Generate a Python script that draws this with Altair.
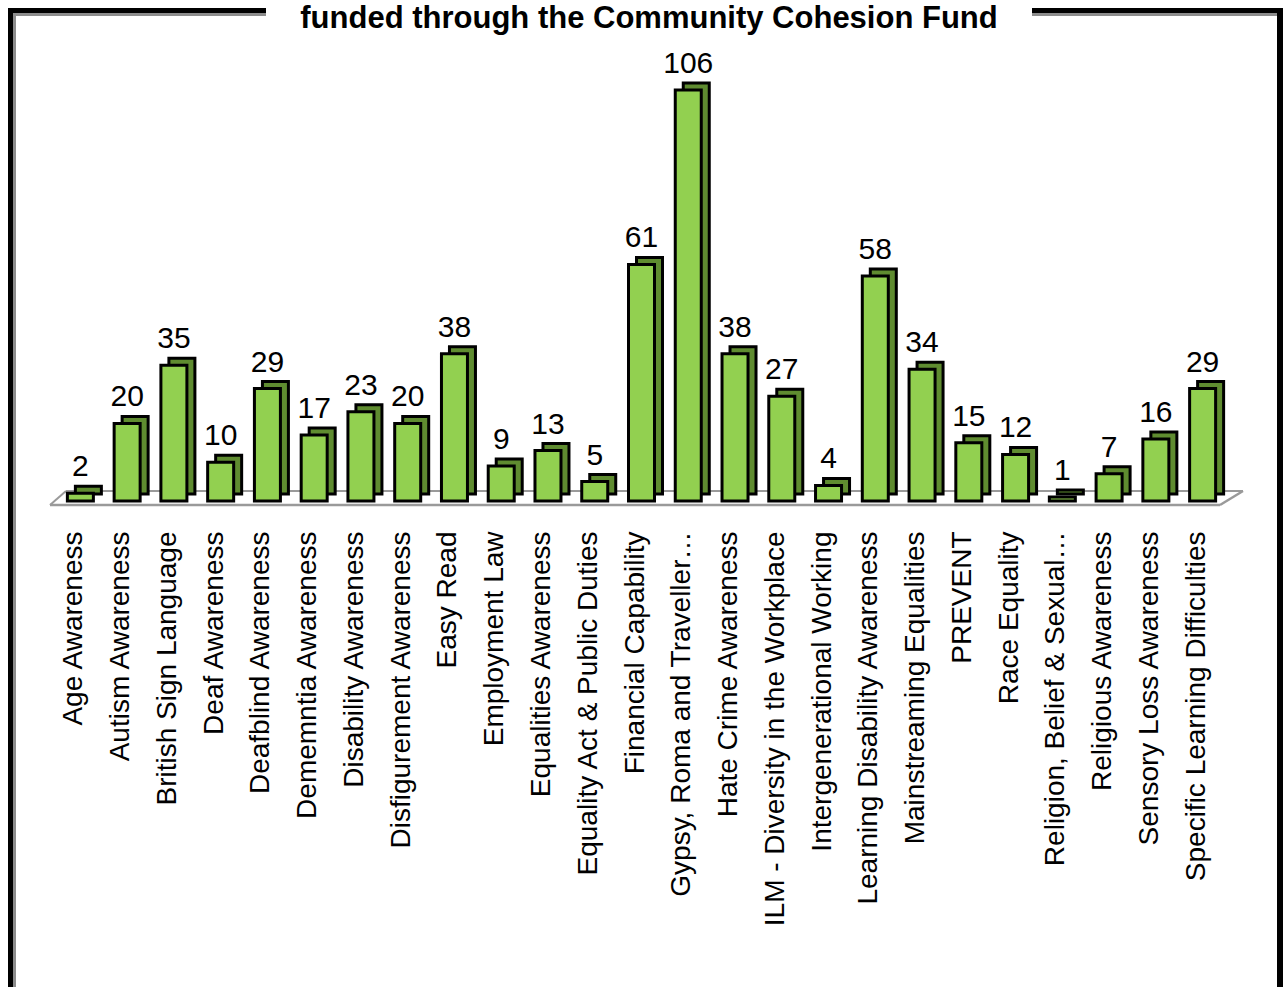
import altair as alt
import pandas as pd

categories = [
    "Age Awareness", "Autism Awareness", "British Sign Language", "Deaf Awareness",
    "Deafblind Awareness", "Dememntia Awareness", "Disability Awareness",
    "Disfigurement Awareness", "Easy Read", "Employment Law", "Equalities Awareness",
    "Equality Act & Public Duties", "Financial Capability", "Gypsy, Roma and Traveller…",
    "Hate Crime Awareness", "ILM - Diversity in the Workplace", "Intergenerational Working",
    "Learning Disability Awareness", "Mainstreaming Equalities", "PREVENT", "Race Equality",
    "Religion, Belief & Sexual…", "Religious Awareness", "Sensory Loss Awareness",
    "Specific Learning Difficulties",
]
values = [2, 20, 35, 10, 29, 17, 23, 20, 38, 9, 13, 5, 61, 106, 38, 27, 4, 58, 34, 15, 12, 1, 7, 16, 29]
title_text = "funded through the Community Cohesion Fund"

df = pd.DataFrame({"cat": categories, "val": values})

PL, PT = 57, 90           # plot origin (absolute pixels)
W, H = 1169, 411
FONT = "Liberation Sans"

def ax(v):
    return v - PL

def ay(v):
    return v - PT

x_enc = alt.X("cat:N", sort=None, title=None,
              scale=alt.Scale(paddingInner=0.4, paddingOuter=0.2),
              axis=alt.Axis(labelAngle=-90, labelAlign="right", labelBaseline="middle",
                            labelFontSize=28, labelFont=FONT, labelColor="black",
                            labelPadding=30, labelLimit=1000, ticks=False, domain=False,
                            labelOffset=-6, grid=False))
y_enc = alt.Y("val:Q", title=None, scale=alt.Scale(domain=[0, 106], nice=False),
              axis=None)

base = alt.Chart(df)

floor_df = pd.DataFrame({"k": [0]})
def rule(x1, y1, x2, y2, color, sw):
    return alt.Chart(floor_df).mark_rule(color=color, strokeWidth=sw).encode(
        x=alt.value(ax(x1)), x2=alt.value(ax(x2)), y=alt.value(ay(y1)), y2=alt.value(ay(y2)))

floor = (rule(50, 505, 1220, 505, "#9a9a9a", 2.5) + rule(66, 491, 1243, 491, "#9a9a9a", 2) +
         rule(50, 505, 66, 491, "#9a9a9a", 2) + rule(1220, 505, 1243, 491, "#9a9a9a", 2.5))

back = base.mark_bar(size=26, xOffset=8, yOffset=-7, y2Offset=0, color="#5f8c30",
                     stroke="black", strokeWidth=3).encode(x=x_enc, y=y_enc)
front = base.mark_bar(size=26, color="#92d050",
                      stroke="black", strokeWidth=3).encode(x=x_enc, y=y_enc)
labels = base.mark_text(fontSize=30, font=FONT, dy=-17, baseline="alphabetic",
                        color="black").encode(x=x_enc, y=y_enc, text="val:Q")

frame = (rule(10.5, 8, 10.5, 987, "black", 5) + rule(14.5, 13, 14.5, 987, "#8c8c8c", 3) +
         rule(8, 10.5, 1283, 10.5, "black", 5) + rule(13, 14.5, 1277, 14.5, "#8c8c8c", 3) +
         rule(1280, 8, 1280, 987, "black", 6))

title_bg = alt.Chart(floor_df).mark_rect(color="white").encode(
    x=alt.value(ax(266)), x2=alt.value(ax(1032)), y=alt.value(ay(0)), y2=alt.value(ay(22)))
title = alt.Chart(pd.DataFrame({"t": [title_text]})).mark_text(
    fontSize=31, fontWeight="bold", font=FONT, baseline="alphabetic", align="center",
    color="black").encode(x=alt.value(ax(649)), y=alt.value(ay(28)), text="t:N")

chart = alt.layer(frame, title_bg, title, floor, back, front, labels).properties(
    width=W, height=H,
    padding={"left": PL, "top": PT, "right": 1284 - PL - W, "bottom": 987 - PT - H},
    autosize=alt.AutoSizeParams(type="none"),
    background="white",
).configure_view(strokeWidth=0)

chart.save("out.html", embed_options={"renderer": "svg", "actions": False})
